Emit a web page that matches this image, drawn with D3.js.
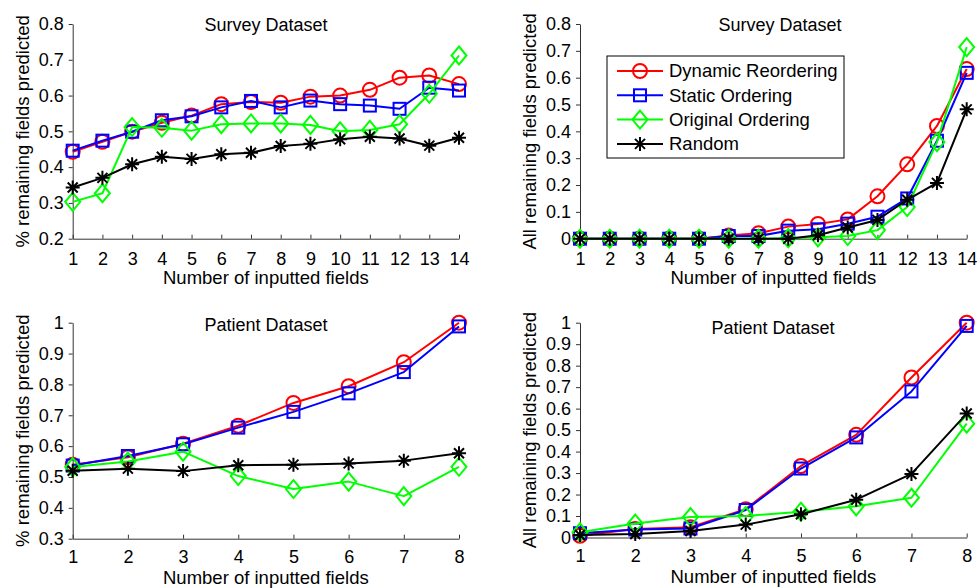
<!DOCTYPE html>
<html>
<head>
<meta charset="utf-8">
<script src="https://cdn.jsdelivr.net/npm/d3@7"></script>
<style>
  body { margin: 0; background: #fff; }
  text { font-family: "Liberation Sans", Arial, Helvetica, sans-serif; fill: #000; }
</style>
</head>
<body>
<svg id="chart" width="979" height="588"></svg>
<script>
// ---- data ----
const surveyFields = [1, 2, 3, 4, 5, 6, 7, 8, 9, 10, 11, 12, 13, 14];
const patientFields = [1, 2, 3, 4, 5, 6, 7, 8];

const seriesNames = ["Dynamic Reordering", "Static Ordering", "Original Ordering", "Random"];

// Survey dataset, % of remaining fields predicted
const surveyPctDynamic  = [0.443, 0.471, 0.499, 0.524, 0.544, 0.576, 0.582, 0.580, 0.597, 0.600, 0.616, 0.650, 0.656, 0.632];
const surveyPctStatic   = [0.446, 0.474, 0.499, 0.531, 0.542, 0.567, 0.585, 0.567, 0.586, 0.576, 0.572, 0.563, 0.622, 0.614];
const surveyPctOriginal = [0.303, 0.327, 0.512, 0.510, 0.502, 0.520, 0.522, 0.522, 0.518, 0.500, 0.504, 0.520, 0.605, 0.712];
const surveyPctRandom   = [0.343, 0.370, 0.408, 0.429, 0.423, 0.436, 0.440, 0.459, 0.465, 0.478, 0.485, 0.480, 0.460, 0.482];

// Survey dataset, all remaining fields predicted
const surveyAllDynamic  = [0, 0, 0, 0, 0, 0.012, 0.02, 0.045, 0.055, 0.072, 0.158, 0.277, 0.420, 0.632];
const surveyAllStatic   = [0, 0, 0, 0, 0, 0.01, 0.01, 0.03, 0.035, 0.056, 0.082, 0.150, 0.365, 0.618];
const surveyAllOriginal = [0, 0, 0, 0, 0, 0, 0, 0.002, 0.005, 0.01, 0.032, 0.118, 0.360, 0.714];
const surveyAllRandom   = [0, 0, 0, 0, 0, 0, 0, 0, 0.013, 0.042, 0.070, 0.145, 0.208, 0.482];

// Patient dataset, % of remaining fields predicted
const patientPctDynamic  = [0.540, 0.564, 0.608, 0.666, 0.740, 0.794, 0.872, 1.000];
const patientPctStatic   = [0.537, 0.568, 0.606, 0.660, 0.711, 0.771, 0.840, 0.988];
const patientPctOriginal = [0.532, 0.550, 0.582, 0.503, 0.461, 0.485, 0.438, 0.533];
const patientPctRandom   = [0.520, 0.527, 0.519, 0.538, 0.540, 0.544, 0.553, 0.577];

// Patient dataset, all remaining fields predicted
const patientAllDynamic  = [0.008, 0.040, 0.048, 0.132, 0.333, 0.478, 0.745, 1.000];
const patientAllStatic   = [0.020, 0.037, 0.042, 0.128, 0.321, 0.466, 0.680, 0.985];
const patientAllOriginal = [0.024, 0.065, 0.095, 0.100, 0.120, 0.145, 0.185, 0.530];
const patientAllRandom   = [0.012, 0.016, 0.030, 0.060, 0.108, 0.176, 0.296, 0.577];

const yTicksSurveyPct  = [0.2, 0.3, 0.4, 0.5, 0.6, 0.7, 0.8];
const yTicksSurveyAll  = [0, 0.1, 0.2, 0.3, 0.4, 0.5, 0.6, 0.7, 0.8];
const yTicksPatientPct = [0.3, 0.4, 0.5, 0.6, 0.7, 0.8, 0.9, 1];
const yTicksPatientAll = [0, 0.1, 0.2, 0.3, 0.4, 0.5, 0.6, 0.7, 0.8, 0.9, 1];

// ---- styles ----
const seriesColors = ["#ff0000", "#0000ff", "#00ff00", "#000000"];
const seriesMarkers = ["circle", "square", "diamond", "asterisk"];
const axisColor = "#333";

const svg = d3.select("#chart");

function drawMarker(g, type, color) {
    if (type === "circle") {
        g.append("circle").attr("r", 7)
            .attr("fill", "none").attr("stroke", color).attr("stroke-width", 2);
    } else if (type === "square") {
        g.append("rect").attr("x", -6).attr("y", -6).attr("width", 12).attr("height", 12)
            .attr("fill", "none").attr("stroke", color).attr("stroke-width", 2);
    } else if (type === "diamond") {
        g.append("path").attr("d", "M0,-9L7.5,0L0,9L-7.5,0Z")
            .attr("fill", "none").attr("stroke", color).attr("stroke-width", 2);
    } else {
        g.append("path").attr("d", "M0,-7V7M-7,0H7M-5,-5L5,5M-5,5L5,-5")
            .attr("fill", "none").attr("stroke", color).attr("stroke-width", 2);
    }
}

function drawPanel(config) {
    const {left, right, top, bottom, fields, yDomain, yTicks, yLabel, title,
           titleX, titleY, xPad, series} = config;

    const x = d3.scaleLinear().domain([fields[0], fields[fields.length - 1]]).range([left, right]);
    const y = d3.scaleLinear().domain(yDomain).range([bottom, top]);

    const g = svg.append("g");

    // x axis: MATLAB style, ticks pointing inwards
    const xAxis = g.append("g")
        .attr("transform", `translate(0,${bottom})`)
        .call(d3.axisBottom(x).tickValues(fields).tickFormat(d3.format("d"))
            .tickSizeInner(-4).tickSizeOuter(0).tickPadding(xPad));
    xAxis.selectAll("text").attr("font-size", 18);

    const yAxis = g.append("g")
        .attr("transform", `translate(${left},0)`)
        .call(d3.axisLeft(y).tickValues(yTicks).tickFormat((d) => d3.format("~g")(d))
            .tickSizeInner(4).tickSizeOuter(0).tickPadding(5));
    yAxis.selectAll("text").attr("font-size", 18);

    [xAxis, yAxis].forEach((a) => {
        a.attr("font-family", null);
        a.select(".domain").attr("stroke", axisColor);
        a.selectAll(".tick line").attr("stroke", axisColor);
        a.selectAll(".tick text").attr("fill", "#000");
    });

    g.append("text")
        .attr("x", (left + right) / 2)
        .attr("y", bottom + 45.5)
        .attr("text-anchor", "middle")
        .attr("font-size", 18.5)
        .text("Number of inputted fields");

    g.append("text")
        .attr("transform", `translate(${left - 44},${(top + bottom) / 2}) rotate(-90)`)
        .attr("text-anchor", "middle")
        .attr("font-size", 18.5)
        .text(yLabel);

    g.append("text")
        .attr("x", titleX)
        .attr("y", titleY)
        .attr("text-anchor", "middle")
        .attr("font-size", 18)
        .text(title);

    const line = d3.line().x((d, i) => x(fields[i])).y((d) => y(d));

    series.forEach((values, s) => {
        g.append("path")
            .attr("d", line(values))
            .attr("fill", "none")
            .attr("stroke", seriesColors[s])
            .attr("stroke-width", 2)
            .attr("stroke-linejoin", "round");
        values.forEach((v, i) => {
            const m = g.append("g").attr("transform", `translate(${x(fields[i])},${y(v)})`);
            drawMarker(m, seriesMarkers[s], seriesColors[s]);
        });
    });
}

drawPanel({
    left: 72.7, right: 459, top: 24, bottom: 238.7,
    fields: surveyFields, yDomain: [0.2, 0.8], yTicks: yTicksSurveyPct,
    yLabel: "% remaining fields predicted", title: "Survey Dataset",
    titleX: 266, titleY: 31, xPad: 13.5,
    series: [surveyPctDynamic, surveyPctStatic, surveyPctOriginal, surveyPctRandom],
});

drawPanel({
    left: 580, right: 966.7, top: 24, bottom: 238.7,
    fields: surveyFields, yDomain: [0, 0.8], yTicks: yTicksSurveyAll,
    yLabel: "All remaining fields predicted", title: "Survey Dataset",
    titleX: 780, titleY: 31, xPad: 13.5,
    series: [surveyAllDynamic, surveyAllStatic, surveyAllOriginal, surveyAllRandom],
});

drawPanel({
    left: 72.7, right: 459, top: 322.7, bottom: 538.7,
    fields: patientFields, yDomain: [0.3, 1], yTicks: yTicksPatientPct,
    yLabel: "% remaining fields predicted", title: "Patient Dataset",
    titleX: 266, titleY: 331, xPad: 11.5,
    series: [patientPctDynamic, patientPctStatic, patientPctOriginal, patientPctRandom],
});

drawPanel({
    left: 580, right: 966.7, top: 322.7, bottom: 537.5,
    fields: patientFields, yDomain: [0, 1], yTicks: yTicksPatientAll,
    yLabel: "All remaining fields predicted", title: "Patient Dataset",
    titleX: 773, titleY: 334, xPad: 11.5,
    series: [patientAllDynamic, patientAllStatic, patientAllOriginal, patientAllRandom],
});

// legend (top-right panel)
const legend = svg.append("g").attr("transform", "translate(607,56)");
legend.append("rect")
    .attr("width", 237).attr("height", 102)
    .attr("fill", "#fff").attr("stroke", "#000").attr("stroke-width", 1);
seriesNames.forEach((name, s) => {
    const row = legend.append("g").attr("transform", `translate(0,${15 + s * 24.3})`);
    row.append("line").attr("x1", 10).attr("x2", 56)
        .attr("stroke", seriesColors[s]).attr("stroke-width", 2);
    drawMarker(row.append("g").attr("transform", "translate(33,0)"), seriesMarkers[s], seriesColors[s]);
    row.append("text").attr("x", 62).attr("dy", "0.35em")
        .attr("font-size", 18.5).text(name);
});
</script>
</body>
</html>
